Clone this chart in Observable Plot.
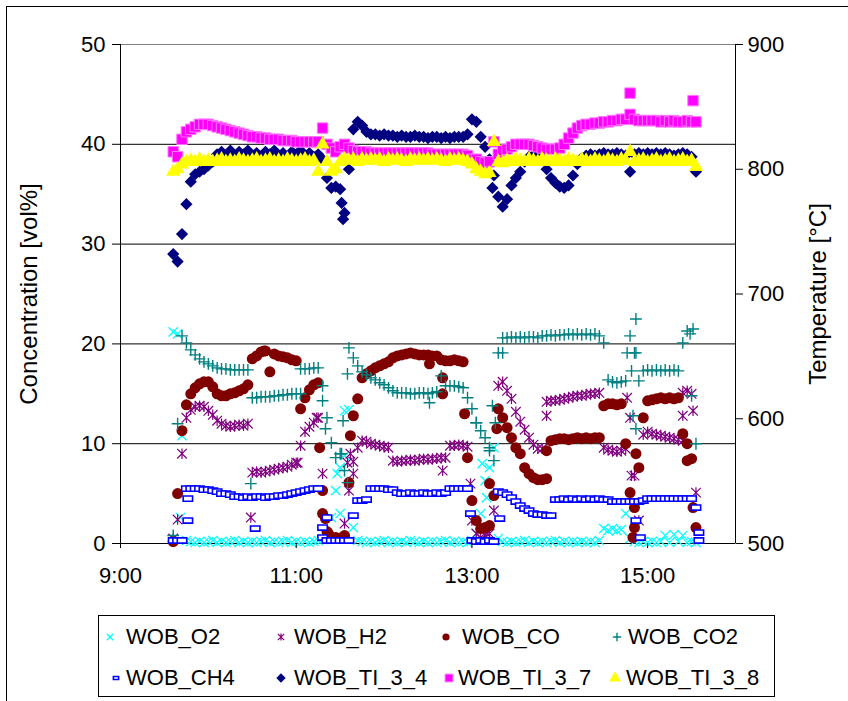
<!DOCTYPE html>
<html><head><meta charset="utf-8">
<script src="https://cdn.jsdelivr.net/npm/d3@7"></script>
<script src="https://cdn.jsdelivr.net/npm/@observablehq/plot@0.6"></script>
<style>
html,body{margin:0;padding:0;background:#fff;}
#wrap{position:relative;width:848px;height:701px;overflow:hidden;font-family:'Liberation Sans',Arial,sans-serif;}
#outer{position:absolute;left:6px;top:6px;width:860px;height:720px;border:1px solid #000;box-sizing:border-box;}
#chart{position:absolute;left:0;top:0;}
#legend{position:absolute;left:98px;top:615px;width:677px;height:82px;border:1px solid #000;box-sizing:border-box;}
.lg{position:absolute;font-size:22px;line-height:22px;white-space:nowrap;color:#000;}
.sw{position:absolute;overflow:visible;}
</style></head>
<body><div id="wrap"><div id="outer"></div><div id="chart"></div><div id="legend"></div></div>
<script>
// ---- data: readings every 3 minutes starting 9:36 ----
const startMin = 36, stepMin = 3;
const O2 = [21.2,21.0,10.8,0.3,0.2,0.1,0.2,0.1,0.2,0.3,
0.1,0.2,0.1,0.2,0.3,0.1,0.2,0.1,0.2,0.1,
0.2,0.3,0.1,0.2,0.1,0.2,0.3,0.1,0.2,0.1,
0.2,0.1,0.2,0.3,0.4,0.8,2.6,5.3,7.6,8.8,
13.4,1.6,0.3,0.2,0.1,0.2,0.1,0.2,0.3,0.1,
0.2,0.1,0.2,0.1,0.3,0.2,0.1,0.2,0.1,0.2,
0.1,0.2,0.3,0.1,0.2,0.1,0.2,0.1,0.3,1.0,
3.0,6.3,7.6,9.6,0.5,0.2,0.1,0.2,0.1,0.2,
0.3,0.1,0.2,0.1,0.2,0.1,0.2,0.3,0.1,0.2,
0.1,0.2,0.1,0.2,0.1,0.2,0.1,0.3,1.5,1.3,
1.5,1.3,1.4,3.0,0.5,0.2,0.1,0.2,0.1,0.2,
0.1,0.2,0.8,0.1,0.9,0.2,0.8,0.1,0.2,0.1];
const H2 = [0.5,2.4,9.0,12.6,13.4,13.7,13.8,13.7,13.3,12.9,
12.3,12.0,11.8,11.7,11.8,11.9,11.8,12.0,7.1,7.2,
7.1,7.2,7.3,7.4,7.5,7.6,7.7,7.9,8.1,9.8,
11.2,11.7,12.1,12.6,7.0,1.0,0.5,0.5,0.6,2.0,
5.3,8.2,9.6,10.3,10.2,10.0,9.9,9.8,9.7,9.6,
8.3,8.2,8.3,8.3,8.4,8.3,8.4,8.5,8.4,8.5,
8.5,8.6,8.6,9.8,9.8,9.9,9.8,9.7,2.3,1.0,
0.6,0.8,1.0,3.3,15.8,16.2,15.3,14.5,13.2,12.2,
11.4,10.6,9.9,9.5,9.5,14.2,14.3,14.3,14.4,14.5,
14.6,14.7,14.8,14.8,14.9,15.0,15.0,15.1,9.6,9.4,
9.3,9.2,9.3,9.5,12.6,6.8,2.3,10.9,11.2,11.0,
10.9,10.8,10.7,10.6,10.5,10.4,10.3,15.3,15.0,5.1];
const CO = [0.2,5.0,11.3,13.9,15.0,15.6,16.0,16.2,16.2,15.7,
15.0,14.8,14.8,15.0,15.1,15.3,15.5,15.9,18.5,18.8,
19.2,19.3,17.2,19.0,18.8,18.7,18.6,18.4,18.3,13.5,
14.6,15.4,15.9,16.1,3.0,1.2,0.6,0.6,0.5,0.6,
6.1,12.8,14.5,16.6,17.0,17.3,17.6,17.8,18.0,18.2,
18.6,18.8,18.9,19.0,19.1,19.0,18.9,18.9,18.9,18.8,
18.8,18.4,18.3,18.3,18.4,18.3,18.2,8.6,4.3,2.3,
1.5,1.6,1.8,4.8,13.5,12.6,11.6,10.6,9.6,9.0,
7.6,7.0,6.6,6.4,6.4,6.5,10.3,10.4,10.5,10.5,
10.4,10.5,10.6,10.5,10.6,10.5,10.6,10.6,13.8,14.0,
14.0,13.9,14.0,10.0,5.1,1.6,7.6,12.6,14.3,14.4,
14.5,14.6,14.5,14.6,14.5,14.6,11.0,10.0,8.5,1.6];
const CO2 = [0.8,12.0,20.8,20.1,19.4,18.9,18.5,18.2,18.0,17.8,
17.6,17.5,17.5,17.4,17.4,17.4,17.4,17.4,14.6,14.6,
14.7,14.7,14.7,14.8,14.8,14.9,14.9,15.0,15.0,17.5,
17.5,17.5,17.6,17.6,15.8,12.6,10.1,8.6,9.0,7.3,
19.6,18.6,17.8,17.2,16.9,16.6,16.4,16.1,15.9,15.6,
15.3,15.1,15.1,15.1,15.0,15.0,15.1,15.1,15.0,15.1,
15.2,16.8,15.8,15.8,15.8,15.7,15.6,14.6,13.5,12.1,
11.3,10.6,9.3,8.3,19.1,20.6,20.6,20.7,20.6,20.7,
20.6,20.7,20.7,20.6,20.8,20.8,20.9,20.8,20.9,20.9,
21.0,20.9,21.0,20.9,21.0,20.9,21.0,20.8,20.1,16.4,
16.2,16.1,16.2,16.3,20.8,19.1,16.3,17.3,17.4,17.3,
17.4,17.3,17.4,17.3,17.4,17.3,20.1,21.3,14.8,10.0];
const CH4 = [0.3,0.3,0.3,5.5,5.5,5.5,5.5,5.4,5.4,5.3,
5.2,5.0,5.0,4.9,4.7,4.7,4.6,4.7,4.6,4.7,
4.7,4.6,4.7,4.7,4.8,4.8,4.9,5.0,5.1,5.2,
5.3,5.4,5.5,5.5,0.6,0.3,0.3,0.3,0.3,0.3,
0.3,2.8,4.3,4.3,4.4,5.5,5.5,5.5,5.5,5.4,
5.4,5.1,5.0,5.0,5.1,5.0,5.0,5.1,5.0,5.0,
5.1,5.0,5.1,5.5,5.5,5.5,5.5,5.5,0.3,0.2,
0.3,0.2,0.3,0.2,5.2,5.1,4.9,4.6,4.2,3.8,
3.5,3.3,3.0,2.9,2.9,2.8,2.8,4.4,4.4,4.5,
4.4,4.5,4.4,4.5,4.4,4.5,4.4,4.5,4.4,4.4,
4.2,4.2,4.2,4.2,4.2,4.2,4.2,4.3,4.5,4.5,
4.5,4.5,4.5,4.5,4.5,4.5,4.5,4.5,4.5,3.6];
const TI_3_4 = [732,726,748,772,790,796,798,800,803,806,
812,814,811,815,811,814,812,815,811,813,
810,814,812,815,811,813,810,814,812,815,
811,813,810,812,808,793,785,786,784,765,
800,832,838,835,830,828,828,827,828,827,
827,826,827,826,826,827,826,826,825,826,
826,825,826,825,826,826,826,828,840,838,
826,818,808,795,778,770,776,787,793,798,
806,810,811,811,810,800,793,789,786,785,
787,795,804,809,811,812,811,812,813,812,
812,813,812,811,798,812,813,812,813,812,
813,812,813,812,811,812,813,812,810,798];
const TI_3_7 = [814,810,824,830,832,834,836,836,836,835,
834,833,832,831,830,829,828,827,826,826,
825,825,824,824,824,823,823,823,822,822,
822,822,822,822,833,820,817,814,818,820,
817,815,814,814,814,813,813,813,813,813,
813,813,813,813,813,813,813,813,813,812,
812,812,812,812,812,812,812,811,808,808,
806,805,806,822,812,815,816,818,820,820,
820,820,819,818,817,816,816,816,817,820,
825,829,833,835,836,836,837,837,838,838,
839,839,840,840,844,840,839,839,839,839,
839,838,839,838,839,838,838,839,838,838];
const TI_3_8 = [798,800,804,806,807,806,808,806,807,806,
807,808,806,807,806,808,807,806,807,808,
806,807,808,806,807,806,808,807,806,807,
808,806,807,798,820,806,798,800,806,808,
807,808,806,808,807,808,807,808,806,808,
807,808,807,806,808,807,808,807,808,807,
808,807,806,808,807,808,807,806,804,800,
798,796,797,822,806,805,807,806,808,807,
806,808,807,806,808,807,806,808,807,806,
808,807,806,808,807,806,808,807,806,808,
807,806,808,807,814,806,807,808,806,807,
808,806,807,808,806,807,808,806,807,802];
// scattered single readings [time, value]
const O2_extra = [["9:41",2.6],["11:28",7.0],["11:30",3.0],["11:33",13.3],["13:07",8.0],["13:10",4.6]];
const H2_extra = [["10:29",2.6],["11:01",8.1],["11:14",12.6],["11:35",8.1],["11:37",9.0],["11:39",7.0],["12:40",7.3],["12:59",6.0],["13:10",1.0],["13:51",12.8],["14:46",14.6],["14:49",6.8],["15:24",12.8],["15:24",15.1],["15:31",13.3]];
const CO_extra = [["10:38",19.3],["11:16",9.6],["11:18",5.3],["11:20",2.5],["11:22",1.0],["11:33",0.8],["11:37",10.8],["12:31",18.0],["12:40",16.6],["12:40",15.0],["12:55",13.0],["13:12",6.0],["13:17",11.5],["13:51",9.3],["14:50",0.6],["14:51",3.6],["14:52",9.0],["15:27",8.3],["15:31",3.6]];
const CO2_extra = [["10:29",6.0],["11:03",15.0],["11:18",14.3],["11:20",11.5],["11:31",9.0],["11:32",12.3],["11:35",6.1],["11:35",17.0],["12:31",14.1],["13:03",12.1],["13:12",9.6],["13:14",13.8],["13:16",12.1],["13:21",19.1],["14:46",19.1],["14:49",17.3],["14:50",12.8],["14:52",19.1],["14:52",22.5],["14:52",11.5],["15:29",21.0],["15:31",21.5]];
const CH4_extra = [["9:46",2.3],["9:46",4.5],["10:32",1.5],["11:18",1.6],["11:21",2.6],["12:59",3.0],["13:19",2.5],["14:52",2.3],["14:55",0.6],["15:35",1.1],["15:35",0.3]];
const TI_3_4_extra = [["11:32",760],["11:31",773],["13:14",785]];
const TI_3_7_extra = [["14:48",861],["15:31",855]];
const TI_3_8_extra = [];
const seriesNames = ["WOB_O2","WOB_H2","WOB_CO","WOB_CO2","WOB_CH4","WOB_TI_3_4","WOB_TI_3_7","WOB_TI_3_8"];
const xDomain = ["9:00","16:00"];
const xTicks = ["9:00","11:00","13:00","15:00"];
const yTicksLeft = [0,10,20,30,40,50];
const yTicksRight = [500,600,700,800,900];
const yLabelLeft = "Concentration [vol%]";
const yLabelRight = "Temperature [°C]";

// ---- helpers ----
const day = hm => { const [h,m] = hm.split(":").map(Number); return new Date(Date.UTC(2000,0,1,h,m)); };
const gridTime = i => new Date(Date.UTC(2000,0,1,9,startMin + stepMin*i));
const tempToY = T => (T - 500) / 8;   // secondary axis 500..900 -> 0..50
function rows(values, extras, temp) {
  const f = temp ? tempToY : v => v;
  const r = [];
  values.forEach((v,i) => { if (v != null) r.push({t: gridTime(i), y: f(v)}); });
  extras.forEach(([hm,v]) => r.push({t: day(hm), y: f(v)}));
  return r;
}
const asteriskX = {draw(ctx, size){ const r = Math.sqrt(size/Math.PI);
  ctx.moveTo(-r,-r); ctx.lineTo(r,r); ctx.moveTo(r,-r); ctx.lineTo(-r,r); ctx.moveTo(0,-r*1.1); ctx.lineTo(0,r*1.1); }};
const dashRect = {draw(ctx, size){ const r = Math.sqrt(size/Math.PI); ctx.rect(-r,-r*0.55,2*r,r*1.1); }};

const spec = [
  {data: rows(O2,O2_extra), symbol:"times", r:4.3, fill:"none", stroke:"#00FFFF", sw:1.3, lr:3},
  {data: rows(H2,H2_extra), symbol:asteriskX, r:4.8, fill:"none", stroke:"#800080", sw:1.2, lr:3.2},
  {data: rows(CO,CO_extra), symbol:"circle", r:5.5, fill:"#800000", stroke:"none", sw:0, lr:3.6},
  {data: rows(CO2,CO2_extra), symbol:"plus", r:3.9, fill:"none", stroke:"#008080", sw:1.4, lr:2.8},
  {data: rows(CH4,CH4_extra), symbol:dashRect, r:4.7, fill:"#FFFFFF", stroke:"#0000FF", sw:1.6, lr:2.6},
  {data: rows(TI_3_4,TI_3_4_extra,true), symbol:"diamond2", r:5.5, fill:"#000080", stroke:"none", sw:0, lr:4.2},
  {data: rows(TI_3_7,TI_3_7_extra,true), symbol:"square", r:5.9, fill:"#FF00FF", stroke:"#FF77FF", sw:1, lr:4.4},
  {data: rows(TI_3_8,TI_3_8_extra,true), symbol:"triangle", r:5.3, fill:"#FFFF00", stroke:"none", sw:0, lr:4.4}
];

const font = "'Liberation Sans', Arial, sans-serif";
const chart = Plot.plot({
  width: 848, height: 600,
  marginLeft: 120, marginRight: 113, marginTop: 44, marginBottom: 57,
  x: {type: "utc", domain: xDomain.map(day)},
  y: {domain: [0, 50]},
  style: {fontFamily: font, fontSize: "22px", color: "#000", background: "transparent", overflow: "visible"},
  marks: [
    Plot.gridY([10,20,30,40], {stroke: "#000", strokeOpacity: 1, strokeWidth: 1}),
    Plot.frame({stroke: "#808080"}),
    Plot.ruleY([0], {stroke: "#000"}),
    Plot.ruleX(xDomain.map(day), {stroke: "#000"}),
    ...spec.map(s => Plot.dot(s.data, {x: "t", y: "y", symbol: s.symbol, r: s.r,
        fill: s.fill, stroke: s.stroke, strokeWidth: s.sw, fillOpacity: 1, strokeOpacity: 1})),
    Plot.axisX({ticks: xTicks.map(day), tickFormat: d3.utcFormat("%-H:%M"), tickSize: 5, tickPadding: 19, label: null}),
    Plot.axisY({ticks: yTicksLeft, tickSize: 8, tickPadding: 7, label: null}),
    Plot.axisY({anchor: "right", ticks: yTicksRight.map(tempToY), tickFormat: d => String(Math.round(500 + d*8)),
        tickSize: 7, tickPadding: 5, label: null}),
    Plot.text([yLabelLeft], {frameAnchor: "left", dx: -91, rotate: -90, textAnchor: "middle", fontSize: 24, fill: "#000"}),
    Plot.text([yLabelRight], {frameAnchor: "right", dx: 83, rotate: -90, textAnchor: "middle", fontSize: 24, fill: "#000"})
  ]
});
document.getElementById("chart").appendChild(chart);

// ---- legend ----
const legendPos = [[110,637,126],[281,637,294],[446,637,462],[617,637,628],
                   [116,678,126],[281,678,294],[449,678,458],[615,678,626]];
const wrap = document.getElementById("wrap");
const symMap = {times: d3.symbolTimes, circle: d3.symbolCircle, plus: d3.symbolPlus,
  diamond2: d3.symbolDiamond2, square: d3.symbolSquare, triangle: d3.symbolTriangle};
seriesNames.forEach((name, i) => {
  const s = spec[i], [cx, cy, tx] = legendPos[i];
  const type = typeof s.symbol === "string" ? symMap[s.symbol] : s.symbol;
  const path = d3.symbol(type, Math.PI * s.lr * s.lr)();
  const svg = d3.create("svg").attr("class","sw").attr("width",20).attr("height",20)
    .style("left", (cx-10)+"px").style("top", (cy-10)+"px");
  svg.append("path").attr("transform","translate(10,10)").attr("d", path)
    .attr("fill", s.fill).attr("stroke", s.stroke).attr("stroke-width", s.sw || null);
  wrap.appendChild(svg.node());
  const t = document.createElement("div");
  t.className = "lg"; t.textContent = name;
  t.style.left = tx + "px"; t.style.top = (cy - 11) + "px";
  wrap.appendChild(t);
});
</script>
</body></html>
